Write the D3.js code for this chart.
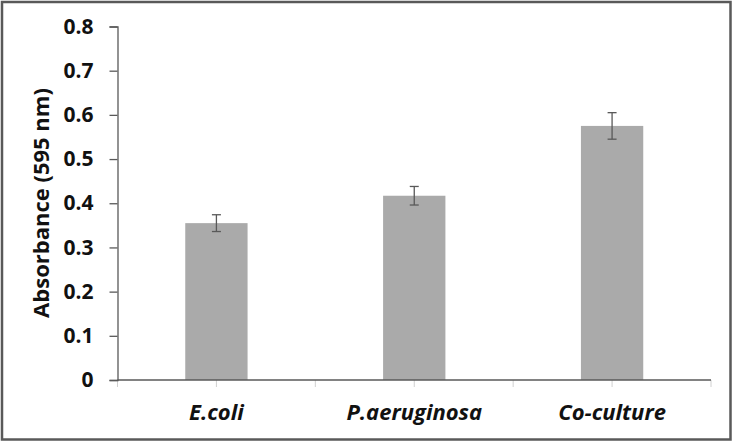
<!DOCTYPE html>
<html>
<head>
<meta charset="utf-8">
<script src="https://cdn.jsdelivr.net/npm/d3@7"></script>
<style>
  body { margin: 0; background: #fff; }
  svg { display: block; font-family: "Open Sans", sans-serif; }
</style>
</head>
<body>
<div id="chart"></div>
<script>
"use strict";
const categories = ["E.coli", "P.aeruginosa", "Co-culture"];
const values = [0.355, 0.417, 0.575];
const errors = [0.019, 0.021, 0.03];
const yTicks = [0, 0.1, 0.2, 0.3, 0.4, 0.5, 0.6, 0.7, 0.8];

const width = 733, height = 442;
const margin = { top: 26.5, right: 22, bottom: 62, left: 117.5 };

const svg = d3.select("#chart").append("svg")
  .attr("width", width)
  .attr("height", height);

svg.append("rect")
  .attr("x", 2).attr("y", 2)
  .attr("width", 728.5).attr("height", 437.5)
  .attr("fill", "#fff")
  .attr("stroke", "#595959")
  .attr("stroke-width", 2.5);

const x = d3.scaleBand()
  .domain(categories)
  .range([margin.left, 711]);

const y = d3.scaleLinear()
  .domain([0, 0.8])
  .range([380, margin.top]);

const barW = x.bandwidth() * 0.315;

// bars
svg.append("g")
  .selectAll("rect")
  .data(categories)
  .join("rect")
  .attr("x", d => x(d) + x.bandwidth() / 2 - barW / 2)
  .attr("y", (d, i) => y(values[i]))
  .attr("width", barW)
  .attr("height", (d, i) => y(0) - y(values[i]))
  .attr("fill", "#aaaaaa");

// error bars
const eb = svg.append("g")
  .attr("stroke", "#595959")
  .attr("stroke-width", 1.3);

categories.forEach((c, i) => {
  const cx = x(c) + x.bandwidth() / 2;
  const top = y(values[i] + errors[i]);
  const bot = y(values[i] - errors[i]);
  eb.append("line").attr("x1", cx).attr("x2", cx).attr("y1", top).attr("y2", bot);
  eb.append("line").attr("x1", cx - 4.5).attr("x2", cx + 4.5).attr("y1", top).attr("y2", top);
  eb.append("line").attr("x1", cx - 4.5).attr("x2", cx + 4.5).attr("y1", bot).attr("y2", bot);
});

// x axis ticks (between categories and at centers)
const tickXs = [];
categories.forEach(c => {
  tickXs.push(x(c));
  tickXs.push(x(c) + x.bandwidth() / 2);
});
tickXs.push(x.range()[1]);

svg.append("g")
  .selectAll("line")
  .data(tickXs)
  .join("line")
  .attr("x1", d => d).attr("x2", d => d)
  .attr("y1", y(0)).attr("y2", y(0) + 7)
  .attr("stroke", "#d0d0d0")
  .attr("stroke-width", 1);

svg.append("line")
  .attr("x1", margin.left).attr("x2", x.range()[1])
  .attr("y1", y(0)).attr("y2", y(0))
  .attr("stroke", "#595959")
  .attr("stroke-width", 1.3);

// y axis
const yAxis = svg.append("g")
  .attr("transform", `translate(${margin.left},0)`)
  .call(d3.axisLeft(y).tickValues(yTicks).tickSize(8).tickPadding(16)
    .tickFormat(d => d === 0 ? "0" : d3.format(".1f")(d)));

yAxis.select(".domain").attr("stroke", "#595959").attr("stroke-width", 1.3);
yAxis.selectAll(".tick line").attr("stroke", "#595959").attr("stroke-width", 1.3);
yAxis.selectAll(".tick text")
  .attr("fill", "#111")
  .style("font-family", "'Open Sans', sans-serif")
  .style("font-size", "21px")
  .style("font-weight", "bold");

// x labels
svg.append("g")
  .selectAll("text")
  .data(categories)
  .join("text")
  .attr("x", d => x(d) + x.bandwidth() / 2)
  .attr("y", 420)
  .attr("text-anchor", "middle")
  .attr("fill", "#111")
  .style("font-size", "22px")
  .style("font-weight", "bold")
  .style("font-style", "italic")
  .text(d => d);

// y title
svg.append("text")
  .attr("transform", "translate(49,203) rotate(-90)")
  .attr("text-anchor", "middle")
  .attr("fill", "#111")
  .style("font-size", "22px")
  .style("font-weight", "bold")
  .text("Absorbance (595 nm)");
</script>
</body>
</html>
